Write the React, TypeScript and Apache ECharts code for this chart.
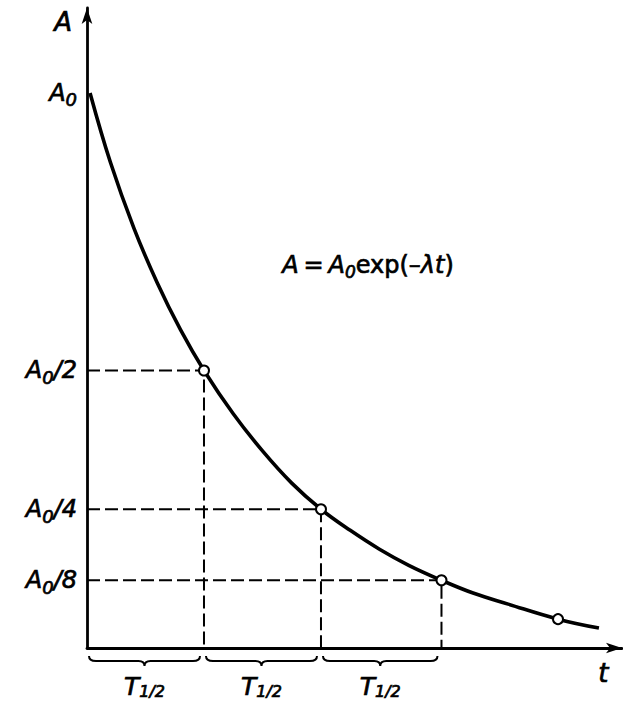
import React, { useEffect, useRef } from "react";
import * as echarts from "echarts";

// Decay curve (t in units of T1/2, A in units of A0)
const curveT = [0.026, 0.2, 0.4, 0.6, 0.8, 1.0, 1.25, 1.5, 1.75, 2.0, 2.25, 2.5, 2.75, 3.03, 3.3, 3.6, 4.026, 4.376];
const curveA = [1.0, 0.875, 0.757, 0.658, 0.573, 0.5, 0.422, 0.355, 0.297, 0.25, 0.212, 0.178, 0.149, 0.122, 0.099, 0.079, 0.052, 0.036];

// Half-life construction
const halfLifeT = [1.0, 2.0, 3.03];
const halfLifeA = [0.5, 0.25, 0.122];

// Open circles on the curve
const markerT = [1.0, 2.0, 3.03, 4.026];
const markerA = [0.5, 0.25, 0.122, 0.052];

// Y tick labels
const yTickValues = [1, 0.5, 0.25, 0.122];
const yTickLabels = ["{a|A}{s|0}", "{a|A}{s|0}{a|/2}", "{a|A}{s|0}{a|/4}", "{a|A}{s|0}{a|/8}"];

// Braces under the time axis
const braceStarts = [0, 1.0, 2.0];
const braceEnds = [1.0, 2.0, 3.03];
const braceLabel = "{i|T}{s|1/2}";

const FONT = "DejaVu Sans";
const heavyAxis = { textBorderColor: "#000", textBorderWidth: 0.7 };
const heavyRaw = { stroke: "#000", lineWidth: 0.7 };

export default function App() {
  const ref = useRef<HTMLDivElement>(null);

  useEffect(() => {
    if (!ref.current) return;
    const chart = echarts.init(ref.current, null, { renderer: "svg" });

    const subRich = {
      a: { fontFamily: FONT, fontStyle: "italic", fontSize: 24, lineHeight: 28, color: "#000", ...heavyAxis },
      s: { fontFamily: FONT, fontStyle: "italic", fontSize: 18, lineHeight: 18, padding: [14, 0, 0, 0], color: "#000", ...heavyAxis },
    };

    const curveData = curveT.map((t, i) => [t, curveA[i]]);
    const markerData = markerT.map((t, i) => [t, markerA[i]]);
    const dashedSeries = halfLifeT.map((t, i) => ({
      type: "line",
      data: [
        [0, halfLifeA[i]],
        [t, halfLifeA[i]],
        [t, 0],
      ],
      symbol: "none",
      silent: true,
      z: 1,
      lineStyle: { color: "#000", width: 2, type: [13, 5] },
    }));

    chart.setOption({
      animation: false,
      backgroundColor: "#fff",
      grid: { left: 87, right: 1, top: 8, bottom: 57 },
      xAxis: {
        type: "value",
        min: 0,
        max: 4.573,
        axisLine: {
          show: true,
          onZero: false,
          symbol: ["none", "arrow"],
          symbolSize: [8, 16],
          lineStyle: { color: "#000", width: 2.8 },
        },
        axisTick: { show: false },
        axisLabel: { show: false },
        splitLine: { show: false },
      },
      yAxis: {
        type: "value",
        min: 0,
        max: 1.153,
        axisLine: {
          show: true,
          onZero: false,
          symbol: ["none", "arrow"],
          symbolSize: [8, 16],
          lineStyle: { color: "#000", width: 2.8 },
        },
        axisTick: { show: false },
        splitLine: { show: false },
        axisLabel: {
          show: true,
          customValues: yTickValues,
          margin: 10,
          formatter: (v: number) => {
            let best = 0;
            yTickValues.forEach((tv, i) => {
              if (Math.abs(tv - v) < Math.abs(yTickValues[best] - v)) best = i;
            });
            return yTickLabels[best];
          },
          rich: subRich,
        },
      },
      graphic: [
        {
          type: "text",
          left: 54,
          top: 9,
          style: { text: "A", fontFamily: FONT, fontStyle: "italic", fontSize: 26, fill: "#000", ...heavyRaw },
        },
        {
          type: "text",
          left: 598,
          top: 660,
          style: { text: "t", fontFamily: FONT, fontStyle: "italic", fontSize: 26, fill: "#000", ...heavyRaw },
        },
        {
          type: "text",
          left: 282,
          top: 249,
          style: {
            text: "{i|A}{r|\u2009=\u2009}{i|A}{s|0}{r|exp(\u2013}{i|\u03bbt}{r|)}",
            rich: {
              i: { fontFamily: FONT, fontStyle: "italic", fontSize: 24, lineHeight: 28, fill: "#000", ...heavyRaw },
              r: { fontFamily: FONT, fontSize: 24, lineHeight: 28, fill: "#000", ...heavyRaw },
              s: { fontFamily: FONT, fontStyle: "italic", fontSize: 17, lineHeight: 17, padding: [14, 0, 0, 0], fill: "#000", ...heavyRaw },
            },
          },
        },
      ],
      series: [
        ...dashedSeries,
        {
          type: "line",
          data: curveData,
          smooth: 0.4,
          symbol: "none",
          silent: true,
          z: 3,
          lineStyle: { color: "#000", width: 3.6 },
        },
        {
          type: "scatter",
          data: markerData,
          symbol: "circle",
          symbolSize: 10,
          silent: true,
          z: 5,
          itemStyle: { color: "#fff", opacity: 1, borderColor: "#000", borderWidth: 2 },
        },
        {
          type: "custom",
          data: braceStarts.map((s, i) => [s, braceEnds[i]]),
          encode: { x: [0, 1] },
          silent: true,
          z: 4,
          renderItem: (params: any, api: any) => {
            const p0 = api.coord([api.value(0), 0]);
            const p1 = api.coord([api.value(1), 0]);
            const x0 = p0[0] + 2;
            const x1 = p1[0] - 4;
            const y = p0[1] + 13;
            const xm = (x0 + x1) / 2;
            const d =
              `M${x0},${y - 5} Q${x0},${y} ${x0 + 7},${y} L${xm - 6},${y} ` +
              `Q${xm},${y} ${xm},${y + 5} Q${xm},${y} ${xm + 6},${y} L${x1 - 7},${y} Q${x1},${y} ${x1},${y - 5}`;
            return {
              type: "group",
              children: [
                {
                  type: "path",
                  shape: { pathData: d },
                  style: { fill: "none", stroke: "#000", lineWidth: 2 },
                },
                {
                  type: "text",
                  style: {
                    text: braceLabel,
                    x: xm,
                    y: y + 25,
                    align: "center",
                    verticalAlign: "middle",
                    rich: {
                      i: { fontFamily: FONT, fontStyle: "italic", fontSize: 25, lineHeight: 24, fill: "#000", ...heavyRaw },
                      s: { fontFamily: FONT, fontStyle: "italic", fontSize: 16, lineHeight: 14, padding: [11, 0, 0, 0], fill: "#000", ...heavyRaw },
                    },
                  },
                },
              ],
            };
          },
        },
      ],
    });

    return () => chart.dispose();
  }, []);

  return (
    <div
      ref={ref}
      style={{ position: "fixed", left: 0, top: 0, width: 623, height: 705, background: "#fff" }}
    />
  );
}
